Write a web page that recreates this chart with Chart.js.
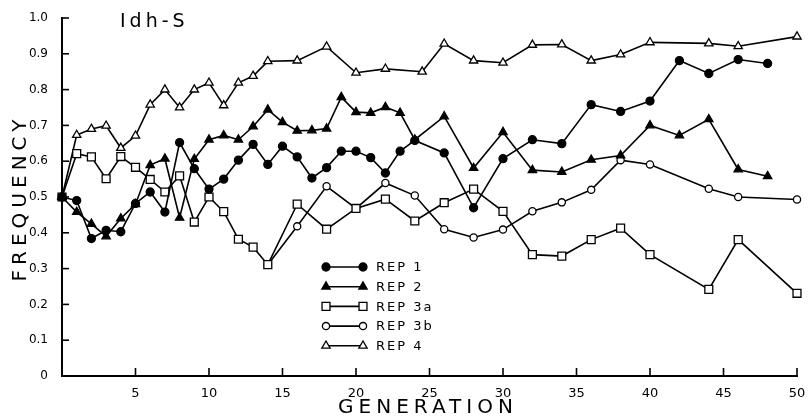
<!DOCTYPE html>
<html lang="en">
<head>
<meta charset="UTF-8">
<title>Idh-S frequency by generation</title>
<script src="https://cdn.jsdelivr.net/npm/chart.js@4.4.0/dist/chart.umd.min.js"></script>
<style>
  html, body { margin: 0; padding: 0; background: #fff; }
  canvas { display: block; }
</style>
</head>
<body>
<canvas id="myChart" width="808" height="419"></canvas>
<script>
// values (generation, allele frequency)
const rep1Gen  = [0,1,2,3,4,5,6,7,8,9,10,11,12,13,14,15,16,17,18,19,20,21,22,23,24,26,28,30,32,34,36,38,40,42,44,46,48];
const rep1Freq = [0.50,0.49,0.384,0.407,0.403,0.482,0.514,0.458,0.652,0.579,0.522,0.55,0.603,0.647,0.591,0.642,0.612,0.553,0.582,0.628,0.628,0.61,0.567,0.628,0.658,0.623,0.47,0.607,0.66,0.649,0.758,0.739,0.768,0.881,0.845,0.884,0.873];

const rep2Gen  = [0,1,2,3,4,5,6,7,8,9,10,11,12,13,14,15,16,17,18,19,20,21,22,23,24,26,28,30,32,34,36,38,40,42,44,46,48];
const rep2Freq = [0.50,0.458,0.425,0.39,0.44,0.48,0.589,0.607,0.442,0.606,0.66,0.672,0.66,0.697,0.744,0.709,0.685,0.686,0.691,0.779,0.737,0.735,0.751,0.735,0.66,0.725,0.581,0.681,0.575,0.57,0.604,0.616,0.70,0.672,0.717,0.577,0.558];

const rep3aGen  = [0,1,2,3,4,5,6,7,8,9,10,11,12,13,14,16,18,20,22,24,26,28,30,32,34,36,38,40,44,46,50];
const rep3aFreq = [0.50,0.621,0.612,0.551,0.613,0.583,0.549,0.514,0.559,0.43,0.50,0.459,0.382,0.36,0.311,0.48,0.41,0.468,0.494,0.433,0.484,0.522,0.46,0.339,0.335,0.381,0.413,0.339,0.242,0.381,0.231];

const rep3bGen  = [14,16,18,20,22,24,26,28,30,32,34,36,38,40,44,46,50];
const rep3bFreq = [0.311,0.418,0.53,0.468,0.539,0.504,0.41,0.387,0.409,0.46,0.485,0.52,0.603,0.591,0.523,0.50,0.493];

const rep4Gen  = [0,1,2,3,4,5,6,7,8,9,10,11,12,13,14,16,18,20,22,24.5,26,28,30,32,34,36,38,40,44,46,50];
const rep4Freq = [0.50,0.673,0.69,0.699,0.637,0.671,0.758,0.80,0.75,0.80,0.819,0.756,0.819,0.838,0.879,0.881,0.92,0.847,0.858,0.85,0.928,0.881,0.875,0.925,0.926,0.881,0.898,0.932,0.929,0.921,0.948];

const seriesNames = ['REP 1', 'REP 2', 'REP 3a', 'REP 3b', 'REP 4'];
const panelTitle = 'Idh-S';
const xTitle = 'GENERATION';
const yTitle = 'FREQUENCY';

function pairs(gens, freqs) {
  return gens.map((g, i) => ({ x: g, y: freqs[i] }));
}

// marker look for each replicate
const markers = [
  { style: 'circle',   radius: 4,   fill: '#000' },
  { style: 'triangle', radius: 4.8, fill: '#000' },
  { style: 'rect',     radius: 5.6, fill: '#fff' },
  { style: 'circle',   radius: 3.6, fill: '#fff' },
  { style: 'triangle', radius: 4.8, fill: '#fff' }
];

const series = [
  pairs(rep1Gen, rep1Freq),
  pairs(rep2Gen, rep2Freq),
  pairs(rep3aGen, rep3aFreq),
  pairs(rep3bGen, rep3bFreq),
  pairs(rep4Gen, rep4Freq)
];

const datasets = series.map((d, i) => ({
  label: seriesNames[i],
  data: d,
  borderColor: '#000',
  borderWidth: 1.6,
  pointStyle: markers[i].style,
  pointRadius: markers[i].radius,
  pointBackgroundColor: markers[i].fill,
  pointBorderColor: '#000',
  pointBorderWidth: 1.3,
  tension: 0,
  fill: false,
  clip: false
}));

function marker(ctx, m, x, y) {
  ctx.beginPath();
  if (m.style === 'circle') {
    ctx.arc(x, y, m.radius, 0, Math.PI * 2);
  } else if (m.style === 'rect') {
    const s = Math.SQRT1_2 * m.radius;
    ctx.rect(x - s, y - s, 2 * s, 2 * s);
  } else {
    const r = m.radius;
    ctx.moveTo(x, y - r);
    ctx.lineTo(x + r * Math.sin(Math.PI * 2 / 3), y - r * Math.cos(Math.PI * 2 / 3));
    ctx.lineTo(x + r * Math.sin(Math.PI * 4 / 3), y - r * Math.cos(Math.PI * 4 / 3));
    ctx.closePath();
  }
  ctx.fillStyle = m.fill;
  ctx.fill();
  ctx.stroke();
}

// inward ticks, titles and the boxed-in legend of the old figure
const paperLook = {
  id: 'paperLook',
  afterDraw(chart) {
    const ctx = chart.ctx;
    const area = chart.chartArea;
    const xs = chart.scales.x, ys = chart.scales.y;
    ctx.save();
    ctx.strokeStyle = '#000';
    ctx.lineWidth = 1.6;
    ys.ticks.forEach(t => {
      const py = ys.getPixelForValue(t.value);
      ctx.beginPath(); ctx.moveTo(area.left, py); ctx.lineTo(area.left + 7, py); ctx.stroke();
    });
    xs.ticks.forEach(t => {
      if (t.value === 0) return;
      const px = xs.getPixelForValue(t.value);
      ctx.beginPath(); ctx.moveTo(px, area.bottom); ctx.lineTo(px, area.bottom - 8); ctx.stroke();
    });

    ctx.fillStyle = '#000';
    ctx.textBaseline = 'alphabetic';

    ctx.font = '19px "DejaVu Sans"';
    ctx.letterSpacing = '4px';
    ctx.textAlign = 'left';
    ctx.fillText(panelTitle, area.left + 58, area.top + 9);

    ctx.font = '20px "DejaVu Sans"';
    ctx.letterSpacing = '5px';
    ctx.textAlign = 'center';
    ctx.fillText(xTitle, 428, area.bottom + 37);

    ctx.save();
    ctx.translate(26, (area.top + area.bottom) / 2 + 1);
    ctx.rotate(-Math.PI / 2);
    ctx.letterSpacing = '5px';
    ctx.fillText(yTitle, 0, 0);
    ctx.restore();

    // legend
    ctx.font = '13px "DejaVu Sans"';
    ctx.letterSpacing = '2px';
    ctx.textAlign = 'left';
    ctx.textBaseline = 'middle';
    const lx0 = area.left + 264, lx1 = area.left + 301, ly = area.top + 249;
    seriesNames.forEach((name, i) => {
      const y = ly + i * 19.7;
      ctx.lineWidth = 1.6;
      ctx.beginPath(); ctx.moveTo(lx0, y); ctx.lineTo(lx1, y); ctx.stroke();
      ctx.lineWidth = 1.3;
      marker(ctx, markers[i], lx0, y);
      marker(ctx, markers[i], lx1, y);
      ctx.fillStyle = '#000';
      ctx.fillText(name, area.left + 314, y + 1);
    });
    ctx.restore();
  }
};

new Chart(document.getElementById('myChart').getContext('2d'), {
  type: 'line',
  data: { datasets: datasets },
  plugins: [paperLook],
  options: {
    responsive: false,
    animation: false,
    devicePixelRatio: 1,
    layout: { padding: { left: 0, right: 11, top: 18, bottom: 0 } },
    plugins: { legend: { display: false }, tooltip: { enabled: false } },
    scales: {
      x: {
        type: 'linear',
        min: 0, max: 50,
        afterFit(s) { s.height = 43; },
        grid: { display: false },
        border: { display: true, color: '#000', width: 2 },
        ticks: {
          stepSize: 5,
          padding: 2,
          color: '#000',
          font: { family: '"DejaVu Sans"', size: 13 },
          maxRotation: 0,
          callback: v => (v === 0 ? '' : String(v))
        }
      },
      y: {
        min: 0, max: 1,
        afterFit(s) { s.width = 62; },
        grid: { display: false },
        border: { display: true, color: '#000', width: 2 },
        ticks: {
          stepSize: 0.1,
          padding: 6,
          color: '#000',
          font: { family: '"DejaVu Sans"', size: 12 },
          callback: v => (Math.abs(v) < 1e-9 ? '0' : v.toFixed(1))
        }
      }
    }
  }
});
</script>
</body>
</html>
